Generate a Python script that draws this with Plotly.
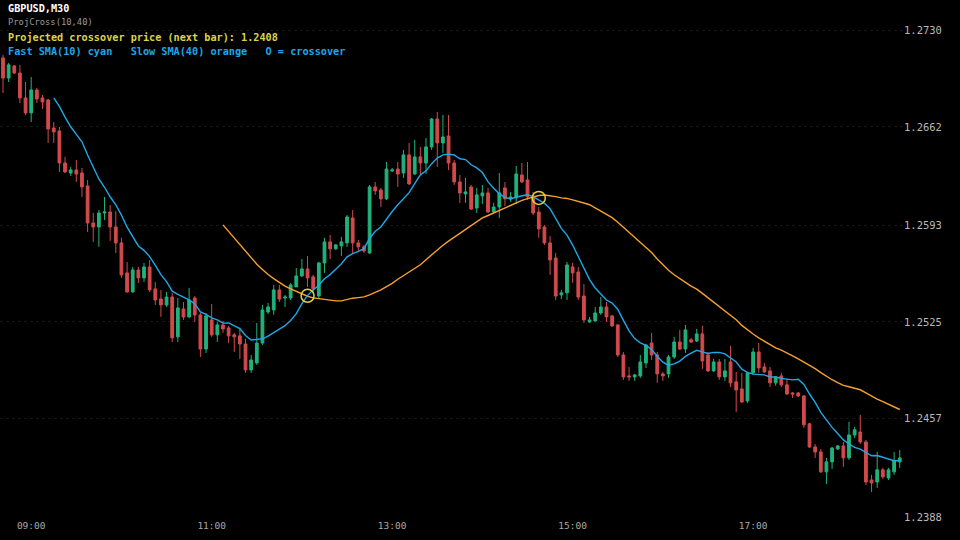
import plotly.graph_objects as go
import pandas as pd

# ---------------- data ----------------
bar_index = list(range(160))

open_ = [1.27104, 1.26963, 1.27048, 1.26998, 1.26823, 1.26718, 1.26879, 1.26823, 1.26809, 1.26612,
 1.26591, 1.26366, 1.26296, 1.26317, 1.26296, 1.26205, 1.25945, 1.25917, 1.26015, 1.26022,
 1.25917, 1.25805, 1.25594, 1.25461, 1.25615, 1.25559, 1.25636, 1.25482, 1.25411, 1.25369,
 1.25425, 1.25145, 1.25341, 1.25285, 1.25418, 1.25299, 1.25060, 1.25264, 1.25159, 1.25229,
 1.25208, 1.25159, 1.25152, 1.25095, 1.24913, 1.24962, 1.25102, 1.25320, 1.25334, 1.25475,
 1.25418, 1.25418, 1.25496, 1.25573, 1.25622, 1.25566, 1.25432, 1.25664, 1.25812, 1.25763,
 1.25784, 1.25805, 1.25980, 1.25805, 1.25777, 1.25734, 1.26198, 1.26177, 1.26114, 1.26310,
 1.26324, 1.26296, 1.26423, 1.26289, 1.26409, 1.26366, 1.26479, 1.26675, 1.26507, 1.26556,
 1.26366, 1.26233, 1.26149, 1.26198, 1.26050, 1.26135, 1.26156, 1.26022, 1.26057, 1.26191,
 1.26114, 1.26121, 1.26282, 1.26247, 1.26135, 1.26022, 1.25917, 1.25805, 1.25699, 1.25440,
 1.25454, 1.25636, 1.25601, 1.25432, 1.25250, 1.25257, 1.25313, 1.25355, 1.25292, 1.25229,
 1.25018, 1.24871, 1.24864, 1.24871, 1.24962, 1.25102, 1.25018, 1.24885, 1.24885, 1.25004,
 1.25109, 1.25060, 1.25124, 1.25116, 1.25166, 1.25018, 1.24906, 1.24969, 1.24864, 1.24969,
 1.24829, 1.24779, 1.24695, 1.24892, 1.25039, 1.24934, 1.24906, 1.24822, 1.24871, 1.24808,
 1.24751, 1.24751, 1.24730, 1.24534, 1.24372, 1.24337, 1.24197, 1.24267, 1.24358, 1.24379,
 1.24295, 1.24456, 1.24477, 1.24407, 1.24140, 1.24126, 1.24211, 1.24154, 1.24197, 1.24267]

high = [1.27125, 1.27069, 1.27055, 1.27055, 1.26935, 1.26970, 1.26893, 1.26844, 1.26816, 1.26654,
 1.26619, 1.26409, 1.26338, 1.26387, 1.26331, 1.26247, 1.26015, 1.26036, 1.26128, 1.26071,
 1.26029, 1.25840, 1.25671, 1.25636, 1.25636, 1.25664, 1.25685, 1.25531, 1.25475, 1.25461,
 1.25454, 1.25418, 1.25390, 1.25489, 1.25432, 1.25313, 1.25313, 1.25376, 1.25250, 1.25257,
 1.25222, 1.25173, 1.25208, 1.25131, 1.25018, 1.25243, 1.25369, 1.25383, 1.25510, 1.25510,
 1.25440, 1.25524, 1.25629, 1.25692, 1.25713, 1.25580, 1.25671, 1.25840, 1.25861, 1.25798,
 1.25847, 1.26001, 1.26036, 1.25826, 1.25791, 1.26212, 1.26233, 1.26191, 1.26373, 1.26331,
 1.26373, 1.26458, 1.26507, 1.26528, 1.26479, 1.26542, 1.26682, 1.26725, 1.26703, 1.26703,
 1.26387, 1.26282, 1.26261, 1.26212, 1.26191, 1.26212, 1.26191, 1.26086, 1.26296, 1.26233,
 1.26163, 1.26345, 1.26366, 1.26373, 1.26163, 1.26057, 1.25931, 1.25854, 1.25734, 1.25475,
 1.25671, 1.25664, 1.25636, 1.25517, 1.25285, 1.25355, 1.25425, 1.25390, 1.25299, 1.25236,
 1.25039, 1.24934, 1.24885, 1.25018, 1.25095, 1.25173, 1.25039, 1.24899, 1.25018, 1.25145,
 1.25194, 1.25229, 1.25138, 1.25201, 1.25222, 1.25039, 1.24990, 1.24990, 1.24990, 1.25081,
 1.24899, 1.24892, 1.24899, 1.25067, 1.25102, 1.24962, 1.24934, 1.24871, 1.24892, 1.24850,
 1.24758, 1.24758, 1.24737, 1.24541, 1.24393, 1.24358, 1.24295, 1.24372, 1.24386, 1.24407,
 1.24548, 1.24513, 1.24597, 1.24421, 1.24176, 1.24337, 1.24225, 1.24225, 1.24337, 1.24351]

low = [1.26858, 1.26935, 1.26991, 1.26788, 1.26703, 1.26654, 1.26788, 1.26746, 1.26507, 1.26507,
 1.26303, 1.26296, 1.26275, 1.26233, 1.26128, 1.25882, 1.25812, 1.25777, 1.25966, 1.25819,
 1.25734, 1.25559, 1.25454, 1.25454, 1.25524, 1.25531, 1.25461, 1.25369, 1.25285, 1.25355,
 1.25109, 1.25109, 1.25264, 1.25278, 1.25250, 1.25004, 1.25032, 1.25145, 1.25109, 1.25173,
 1.25102, 1.25039, 1.24990, 1.24892, 1.24892, 1.24948, 1.25088, 1.25306, 1.25299, 1.25390,
 1.25355, 1.25404, 1.25496, 1.25566, 1.25496, 1.25447, 1.25418, 1.25594, 1.25692, 1.25756,
 1.25713, 1.25777, 1.25734, 1.25741, 1.25734, 1.25727, 1.26142, 1.26057, 1.26107, 1.26303,
 1.26198, 1.26261, 1.26212, 1.26282, 1.26289, 1.26289, 1.26458, 1.26338, 1.26437, 1.26317,
 1.26212, 1.26086, 1.26086, 1.26036, 1.26015, 1.26079, 1.26015, 1.26015, 1.25980, 1.26064,
 1.26093, 1.26079, 1.26226, 1.26107, 1.26001, 1.25840, 1.25791, 1.25580, 1.25404, 1.25411,
 1.25404, 1.25524, 1.25404, 1.25243, 1.25243, 1.25250, 1.25299, 1.25250, 1.25215, 1.25004,
 1.24843, 1.24836, 1.24836, 1.24857, 1.24927, 1.24983, 1.24822, 1.24836, 1.24857, 1.24990,
 1.25053, 1.25032, 1.25102, 1.25109, 1.24920, 1.24899, 1.24899, 1.24843, 1.24836, 1.24793,
 1.24618, 1.24681, 1.24681, 1.24878, 1.24892, 1.24892, 1.24793, 1.24801, 1.24793, 1.24737,
 1.24716, 1.24723, 1.24506, 1.24365, 1.24295, 1.24190, 1.24112, 1.24218, 1.24351, 1.24232,
 1.24281, 1.24435, 1.24393, 1.24105, 1.24056, 1.24084, 1.24147, 1.24140, 1.24176, 1.24225]

close = [1.26963, 1.27055, 1.26998, 1.26823, 1.26718, 1.26879, 1.26816, 1.26795, 1.26605, 1.26584,
 1.26366, 1.26303, 1.26317, 1.26289, 1.26198, 1.25945, 1.25917, 1.26015, 1.26022, 1.25917,
 1.25805, 1.25580, 1.25461, 1.25615, 1.25559, 1.25636, 1.25475, 1.25404, 1.25369, 1.25425,
 1.25138, 1.25348, 1.25285, 1.25404, 1.25299, 1.25060, 1.25292, 1.25159, 1.25229, 1.25201,
 1.25152, 1.25145, 1.25095, 1.24913, 1.24983, 1.25102, 1.25334, 1.25355, 1.25475, 1.25411,
 1.25425, 1.25510, 1.25573, 1.25622, 1.25559, 1.25482, 1.25664, 1.25812, 1.25763, 1.25791,
 1.25812, 1.25987, 1.25805, 1.25777, 1.25748, 1.26198, 1.26170, 1.26114, 1.26324, 1.26317,
 1.26289, 1.26423, 1.26219, 1.26409, 1.26366, 1.26479, 1.26675, 1.26507, 1.26549, 1.26366,
 1.26233, 1.26156, 1.26163, 1.26043, 1.26142, 1.26156, 1.26022, 1.26057, 1.26156, 1.26114,
 1.26128, 1.26289, 1.26233, 1.26128, 1.26015, 1.25903, 1.25805, 1.25685, 1.25432, 1.25454,
 1.25650, 1.25594, 1.25425, 1.25264, 1.25264, 1.25313, 1.25355, 1.25285, 1.25222, 1.25018,
 1.24864, 1.24864, 1.24878, 1.24969, 1.25088, 1.25018, 1.24885, 1.24871, 1.25004, 1.25109,
 1.25060, 1.25194, 1.25109, 1.25166, 1.24976, 1.24906, 1.24969, 1.24864, 1.24906, 1.24822,
 1.24772, 1.24688, 1.24892, 1.25039, 1.24927, 1.24899, 1.24822, 1.24864, 1.24808, 1.24744,
 1.24744, 1.24730, 1.24527, 1.24372, 1.24337, 1.24197, 1.24267, 1.24365, 1.24379, 1.24295,
 1.24456, 1.24492, 1.24407, 1.24126, 1.24119, 1.24211, 1.24162, 1.24211, 1.24274, 1.24295]

fast_period = 10
slow_period = 40

time_tick_bars = [5, 37, 69, 101, 133]
time_tick_labels = ["09:00", "11:00", "13:00", "15:00", "17:00"]

price_ticks = [1.2388, 1.2457, 1.2525, 1.2593, 1.2662, 1.2730]
price_tick_labels = ["1.2388", "1.2457", "1.2525", "1.2593", "1.2662", "1.2730"]

title_symbol = "GBPUSD,M30"
title_indicator = "ProjCross(10,40)"
projected_text = "Projected crossover price (next bar): 1.2408"
legend_text = "Fast SMA(10) cyan   Slow SMA(40) orange   O = crossover"

# ---------------- indicators ----------------
closes = pd.Series(close)
fast = closes.rolling(fast_period).mean()
slow = closes.rolling(slow_period).mean()

cross_x, cross_y = [], []
diff = fast - slow
for i in range(1, len(close)):
    a, b = diff.iloc[i - 1], diff.iloc[i]
    if pd.notna(a) and pd.notna(b) and (a > 0) != (b > 0):
        cross_x.append(i)
        cross_y.append((fast.iloc[i] + slow.iloc[i]) / 2)

# ---------------- figure ----------------
W, H = 960, 540
ML, MR, MT, MB = 0, 57, 0, 22
plot_h = H - MT - MB
plot_w = W - ML - MR

GREEN = "#20b27c"
RED = "#d24a4c"
CYAN = "#1fa8e6"
ORANGE = "#f6a12c"
YELLOW = "#e2d23c"

fig = go.Figure()
fig.add_trace(go.Candlestick(
    x=bar_index, open=open_, high=high, low=low, close=close,
    increasing=dict(line=dict(color=GREEN, width=1), fillcolor=GREEN),
    decreasing=dict(line=dict(color=RED, width=1), fillcolor=RED),
    whiskerwidth=0, hoverinfo="skip", showlegend=False,
))
fig.add_trace(go.Scatter(x=bar_index, y=slow, mode="lines",
                         line=dict(color=ORANGE, width=1.4), hoverinfo="skip", showlegend=False))
fig.add_trace(go.Scatter(x=bar_index, y=fast, mode="lines",
                         line=dict(color=CYAN, width=1.4), hoverinfo="skip", showlegend=False))
fig.add_trace(go.Scatter(x=cross_x, y=cross_y, mode="markers",
                         marker=dict(symbol="circle-open", size=13, color=YELLOW, line=dict(width=1.5, color=YELLOW)),
                         hoverinfo="skip", showlegend=False))

def px_x(px):
    return (px - ML) / plot_w

def px_y(py):
    return 1 - (py - MT) / plot_h

mono = "DejaVu Sans Mono"
texts = [
    (title_symbol, 9, dict(family=mono, size=10.2, color="#ffffff"), True),
    (title_indicator, 22, dict(family=mono, size=8.8, color="#9a9a9a"), False),
    (projected_text, 38, dict(family=mono, size=10.2, color="#d9d44a"), True),
    (legend_text, 51, dict(family=mono, size=10.2, color="#1ea6ea"), True),
]
for t, ypix, f, bold in texts:
    fig.add_annotation(x=px_x(6), y=px_y(ypix), xref="paper", yref="paper",
                       text=("<b>%s</b>" % t) if bold else t, showarrow=False,
                       xanchor="left", yanchor="middle", font=f)

# y mapping: 1.2730 at y=30px, 1.2388 at y=517px
ppu = (517 - 30) / (1.2730 - 1.2388)
y_top = 1.2730 + (30 - MT) / ppu
y_bot = 1.2388 - (MT + plot_h - 517) / ppu
# x mapping: bar i at 3 + 5.64*i px
spacing = 5.64
x_left = (ML - 3) / spacing
x_right = (ML + plot_w - 3) / spacing

fig.update_layout(
    width=W, height=H,
    margin=dict(l=ML, r=MR, t=MT, b=MB),
    paper_bgcolor="#000000", plot_bgcolor="#000000",
    showlegend=False,
    xaxis=dict(range=[x_left, x_right], tickvals=time_tick_bars, ticktext=time_tick_labels,
               showgrid=False, zeroline=False, showline=False, ticks="",
               tickfont=dict(family=mono, size=9.5, color="#a8a8a8"),
               rangeslider=dict(visible=False), fixedrange=True),
    yaxis=dict(range=[y_bot, y_top], side="right", tickvals=price_ticks, ticktext=price_tick_labels,
               showgrid=True, gridcolor="#161616", griddash="dot", gridwidth=1,
               zeroline=False, showline=False, ticks="",
               tickfont=dict(family=mono, size=10.5, color="#b8b8b8"), fixedrange=True),
)

fig.write_html("out.html")
